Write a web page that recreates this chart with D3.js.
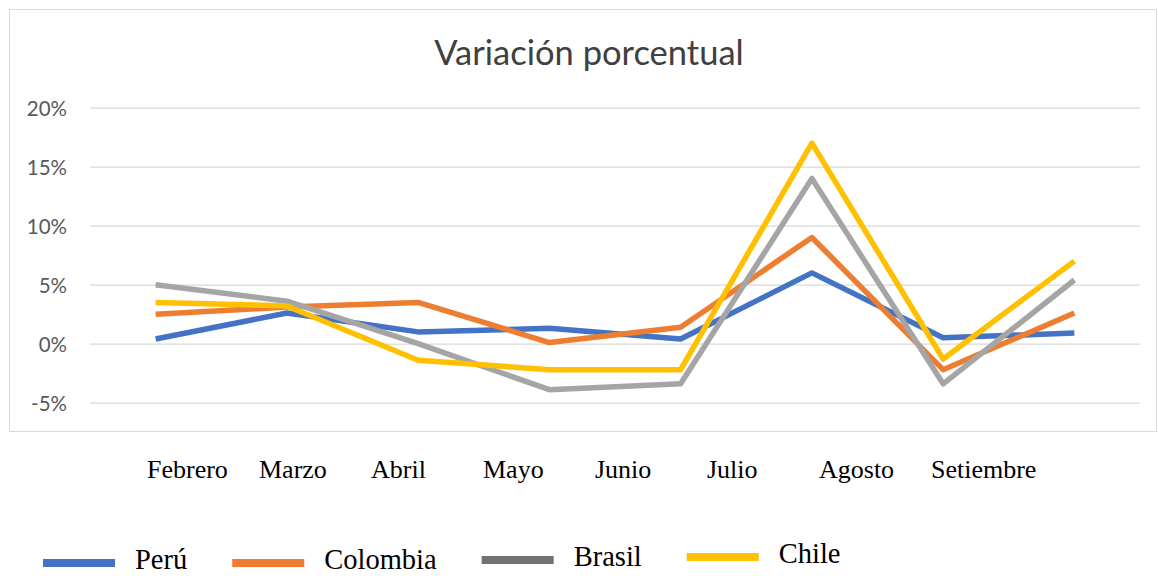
<!DOCTYPE html>
<html>
<head>
<meta charset="utf-8">
<script src="https://cdn.jsdelivr.net/npm/d3@7"></script>
<style>
    body { margin: 0; background: #fff; }
    svg { display: block; }
</style>
</head>
<body>
<svg id="chart" width="1158" height="576"></svg>
<script>
// data
var months = ["Febrero", "Marzo", "Abril", "Mayo", "Junio", "Julio", "Agosto", "Setiembre"];
var peru = [0.4, 2.6, 1.0, 1.3, 0.4, 6.0, 0.5, 0.9];
var colombia = [2.5, 3.1, 3.5, 0.1, 1.4, 9.0, -2.2, 2.6];
var brasil = [5.0, 3.6, 0.0, -3.9, -3.4, 14.0, -3.4, 5.4];
var chile = [3.5, 3.2, -1.4, -2.2, -2.2, 17.0, -1.3, 7.0];
var yTicks = [-5, 0, 5, 10, 15, 20];
var seriesNames = ["Perú", "Colombia", "Brasil", "Chile"];

var series = [
    { name: seriesNames[0], values: peru, color: "#4472C4", key: "#4472C4" },
    { name: seriesNames[1], values: colombia, color: "#ED7D31", key: "#ED7D31" },
    { name: seriesNames[2], values: brasil, color: "#A5A5A5", key: "#767171" },
    { name: seriesNames[3], values: chile, color: "#FFC000", key: "#FFC000" }
];

var svg = d3.select("#chart"),
    plotLeft = 90,
    plotRight = 1140,
    plotTop = 107.7,
    plotBottom = 402.7;

// chart frame
svg.append("rect")
    .attr("x", 9.5).attr("y", 9.5)
    .attr("width", 1147).attr("height", 422)
    .attr("fill", "#fff")
    .attr("stroke", "#d9d9d9")
    .attr("stroke-width", 1);

svg.append("text")
    .attr("x", 589).attr("y", 65)
    .attr("text-anchor", "middle")
    .attr("font-family", "Lato, sans-serif")
    .attr("font-size", 34.5)
    .attr("fill", "#404040")
    .text("Variación porcentual");

var x = d3.scalePoint()
    .domain(months)
    .range([plotLeft, plotRight])
    .padding(0.5);

var y = d3.scaleLinear()
    .domain([-5, 20])
    .range([plotBottom, plotTop]);

//y axis + gridlines
var yAxis = svg.append("g")
    .attr("transform", "translate(" + plotLeft + ",0)")
    .call(d3.axisLeft(y)
        .tickValues(yTicks)
        .tickSize(-(plotRight - plotLeft))
        .tickPadding(23)
        .tickFormat(function (d) { return d + "%"; }));
yAxis.select(".domain").remove();
yAxis.selectAll(".tick line")
    .attr("stroke", "#d9d9d9")
    .attr("stroke-width", 1.3);
yAxis.selectAll(".tick text")
    .attr("font-family", "Lato, sans-serif")
    .attr("font-size", 20.5)
    .attr("fill", "#595959")
    .attr("dy", "0.36em");

//lines
var line = d3.line()
    .x(function (d, i) { return x(months[i]); })
    .y(function (d) { return y(d); });

svg.append("g").selectAll("path")
    .data(series)
    .join("path")
    .attr("d", function (s) { return line(s.values); })
    .attr("fill", "none")
    .attr("stroke", function (s) { return s.color; })
    .attr("stroke-width", 5.5)
    .attr("stroke-linejoin", "round");

//month labels typed under the chart
var labelX = d3.scalePoint()
    .domain(months)
    .range([147, 931]);

svg.append("g").selectAll("text")
    .data(months)
    .join("text")
    .attr("x", function (d) { return labelX(d); })
    .attr("y", 478)
    .attr("font-family", "'Liberation Serif', 'Times New Roman', serif")
    .attr("font-size", 26)
    .attr("fill", "#000")
    .text(function (d) { return d; });

//legend, laid out one after another
var legend = svg.append("g");
var cursor = 43;
series.forEach(function (s, i) {
    var base = 569 - Math.max(0, i - 1) * 3;
    legend.append("line")
        .attr("x1", cursor).attr("x2", cursor + 72)
        .attr("y1", base - 6).attr("y2", base - 6)
        .attr("stroke", s.key)
        .attr("stroke-width", 8);
    var t = legend.append("text")
        .attr("x", cursor + 92)
        .attr("y", base)
        .attr("font-family", "'Liberation Serif', 'Times New Roman', serif")
        .attr("font-size", 28.5)
        .attr("fill", "#000")
        .text(s.name);
    cursor = cursor + 92 + t.node().getComputedTextLength() + 45;
});
</script>
</body>
</html>
